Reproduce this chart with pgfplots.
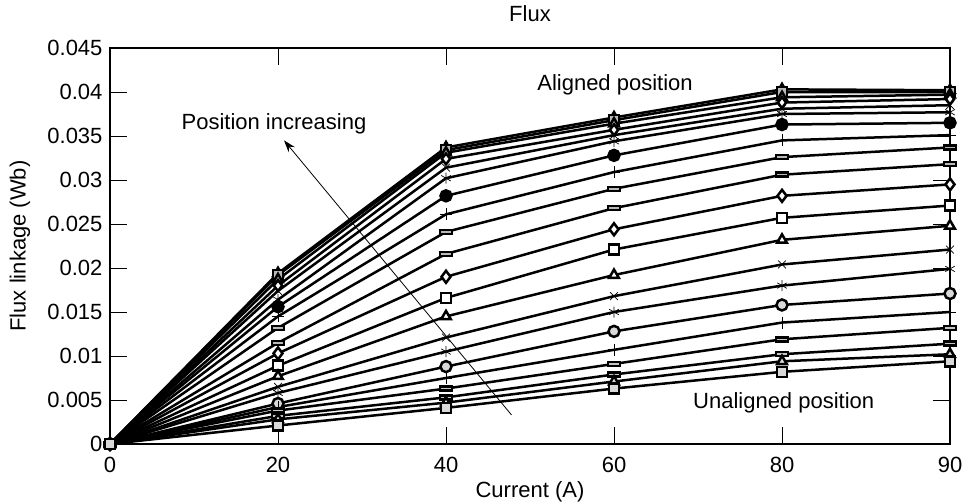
\documentclass[border=0pt]{standalone}
\usepackage{pgfplots}
\pgfplotsset{compat=1.18}
\usepackage{fontspec}
\setmainfont{Liberation Sans}
\usetikzlibrary{arrows.meta}
\pgfdeclareplotmark{bar}{%
  \pgfpathrectangle{\pgfpoint{-1.2\pgfplotmarksize}{-0.4\pgfplotmarksize}}{\pgfpoint{2.4\pgfplotmarksize}{0.8\pgfplotmarksize}}%
  \pgfusepathqfillstroke}
\begin{document}
\fontsize{22}{26}\selectfont
\begin{tikzpicture}
\begin{axis}[
  name=ax,
  scale only axis, width=840pt, height=396pt,
  xmin=0, xmax=5, ymin=0, ymax=0.045,
  scaled y ticks=false,
  xtick={0,1,2,3,4,5}, xticklabels={0,20,40,60,80,90},
  ytick={0,0.005,0.01,0.015,0.02,0.025,0.03,0.035,0.04,0.045},
  yticklabels={0,0.005,0.01,0.015,0.02,0.025,0.03,0.035,0.04,0.045},
  tick align=inside, major tick length=17pt,
  every tick/.style={black, line width=0.8pt},
  axis line style={line width=2.4pt},
  xticklabel style={yshift=-6pt},
  clip=false,
  every axis plot/.append style={black, line width=2.5pt, mark size=5pt,
     mark options={line width=0.7pt, draw=black, solid}},
  title={Flux},
  title style={at={(axis description cs:0.5,1)}, anchor=base, yshift=21pt},
  xlabel={Current (A)},
  xlabel style={at={(axis description cs:0.5,0)}, anchor=base, yshift=-53pt},
  ylabel={Flux linkage (Wb)},
  ylabel style={at={(axis description cs:0,0.5)}, anchor=center, yshift=90pt},
]
\addplot[mark=triangle*, mark size=5.5pt, mark options={fill=gray!60}] coordinates {(0,0)(1,0.0194)(2,0.0337)(3,0.0371)(4,0.0403)(5,0.0402)};
\addplot[mark=square*, mark options={fill=gray!55}] coordinates {(0,0)(1,0.0192)(2,0.0334)(3,0.0368)(4,0.0400)(5,0.0400)};
\addplot[mark=triangle*, mark size=5.5pt, mark options={fill=gray!55}] coordinates {(0,0)(1,0.0187)(2,0.0331)(3,0.0364)(4,0.0394)(5,0.0397)};
\addplot[mark=diamond*, mark size=5.5pt, mark options={fill=white}] coordinates {(0,0)(1,0.0180)(2,0.0324)(3,0.0357)(4,0.0388)(5,0.0392)};
\addplot[mark=x, mark size=5.5pt] coordinates {(0,0)(1,0.0174)(2,0.0314)(3,0.0351)(4,0.0381)(5,0.0385)};
\addplot[mark=asterisk, mark size=5.5pt] coordinates {(0,0)(1,0.0164)(2,0.0302)(3,0.0344)(4,0.0375)(5,0.0377)};
\addplot[mark=*, mark size=5.5pt, mark options={fill=black}] coordinates {(0,0)(1,0.0156)(2,0.0282)(3,0.0328)(4,0.0363)(5,0.0365)};
\addplot[mark=+, mark size=6pt] coordinates {(0,0)(1,0.0145)(2,0.0261)(3,0.0309)(4,0.0345)(5,0.0351)};
\addplot[mark=bar, mark options={fill=gray!55}] coordinates {(0,0)(1,0.0132)(2,0.0241)(3,0.0290)(4,0.0326)(5,0.0337)};
\addplot[mark=bar, mark options={fill=gray!55}] coordinates {(0,0)(1,0.0115)(2,0.0216)(3,0.0268)(4,0.0306)(5,0.0318)};
\addplot[mark=diamond*, mark size=6pt, mark options={fill=white}] coordinates {(0,0)(1,0.0103)(2,0.0190)(3,0.0244)(4,0.0282)(5,0.0295)};
\addplot[mark=square*, mark options={fill=white}] coordinates {(0,0)(1,0.0089)(2,0.0166)(3,0.0221)(4,0.0257)(5,0.0271)};
\addplot[mark=triangle*, mark size=5.5pt, mark options={fill=white}] coordinates {(0,0)(1,0.0077)(2,0.0145)(3,0.0192)(4,0.0232)(5,0.0248)};
\addplot[mark=x, mark size=5.5pt] coordinates {(0,0)(1,0.0065)(2,0.0121)(3,0.0168)(4,0.0204)(5,0.0221)};
\addplot[mark=asterisk, mark size=5.5pt] coordinates {(0,0)(1,0.0058)(2,0.0105)(3,0.0150)(4,0.0180)(5,0.0199)};
\addplot[mark=*, mark size=5.5pt, mark options={fill=gray!30}] coordinates {(0,0)(1,0.0046)(2,0.0088)(3,0.0128)(4,0.0158)(5,0.0171)};
\addplot[mark=+, mark size=6pt] coordinates {(0,0)(1,0.0042)(2,0.0075)(3,0.0107)(4,0.0138)(5,0.0150)};
\addplot[mark=bar, mark options={fill=gray!45}] coordinates {(0,0)(1,0.0038)(2,0.0063)(3,0.0091)(4,0.0119)(5,0.0132)};
\addplot[mark=bar, mark options={fill=gray!45}] coordinates {(0,0)(1,0.0032)(2,0.0053)(3,0.0079)(4,0.0102)(5,0.0114)};
\addplot[mark=triangle*, mark size=5.5pt, mark options={fill=gray!30}] coordinates {(0,0)(1,0.0028)(2,0.0047)(3,0.0071)(4,0.0094)(5,0.0102)};
\addplot[mark=square*, mark options={fill=gray!30}] coordinates {(0,0)(1,0.0021)(2,0.0041)(3,0.0063)(4,0.0082)(5,0.0094)};
\draw[line width=0.8pt, -{Stealth[length=12pt, width=8pt]}] (axis cs:2.39,0.0033) -- (axis cs:1.036,0.0345);
\node[anchor=center] at (axis cs:0.976,0.0364) {Position increasing};
\node[anchor=center] at (axis cs:3.006,0.0408) {Aligned position};
\node[anchor=center] at (axis cs:4.01,0.0047) {Unaligned position};
\end{axis}
\pgfresetboundingbox
\path[use as bounding box] ([shift={(-110pt,-59pt)}]ax.south west) rectangle ([shift={(12pt,48pt)}]ax.north east);
\end{tikzpicture}
\end{document}
